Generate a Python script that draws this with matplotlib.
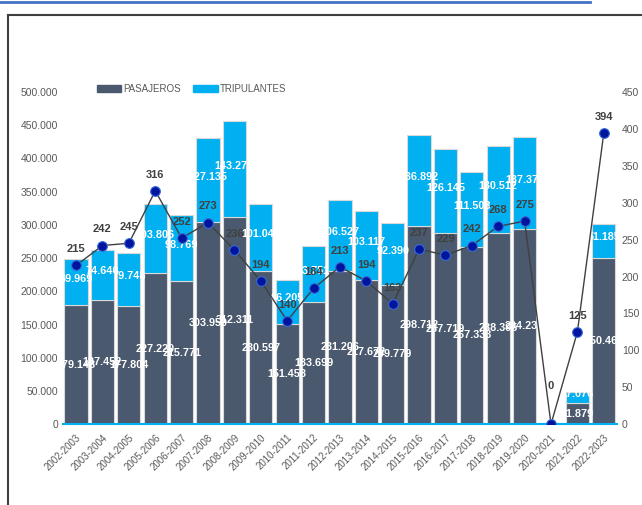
import matplotlib
matplotlib.use("Agg")
import matplotlib.pyplot as plt
import matplotlib.ticker as mticker
import numpy as np
from matplotlib.lines import Line2D

PASAJEROS_C = "#4a596d"
TRIPULANTES_C = "#00b0f0"
LINE_C = "#404040"
DOT_C = "#00159e"
TICK_C = "#595959"

seasons = ["2002-2003", "2003-2004", "2004-2005", "2005-2006", "2006-2007",
           "2007-2008", "2008-2009", "2009-2010", "2010-2011", "2011-2012",
           "2012-2013", "2013-2014", "2014-2015", "2015-2016", "2016-2017",
           "2017-2018", "2018-2019", "2019-2020", "2020-2021", "2021-2022",
           "2022-2023"]
pasajeros = [179148, 187452, 177804, 227220, 215771, 303950, 312311, 230597,
             151458, 183699, 231206, 217672, 209779, 298712, 287719, 267333,
             288395, 294236, 0, 31879, 250463]
tripulantes = [69969, 74640, 79748, 103806, 98769, 127135, 143270, 101041,
               66205, 83751, 106527, 103117, 92390, 136892, 126145, 111508,
               130512, 137377, 0, 17076, 51185]
escalas = [215, 242, 245, 316, 252, 273, 236, 194, 140, 184, 213, 194, 163,
           237, 229, 242, 268, 275, 0, 125, 394]


def miles(v, _=None):
    return f"{v:,.0f}".replace(",", ".")


plt.rcParams.update({
    "font.family": ["Liberation Sans", "DejaVu Sans"],
    "font.size": 7.5,
})

fig = plt.figure(figsize=(6.42, 5.05), dpi=100)
ax = fig.add_axes([0.098, 0.160, 0.863, 0.658])
x = np.arange(len(seasons))
pas = np.array(pasajeros)
tri = np.array(tripulantes)

ax.bar(x, pas, width=0.88, color=PASAJEROS_C, edgecolor="#d9d9d9",
       linewidth=0.8, zorder=2)
ax.bar(x, tri, width=0.88, bottom=pas, color=TRIPULANTES_C,
       edgecolor="#d9d9d9", linewidth=0.8, zorder=2)

for xi, p, t in zip(x, pas, tri):
    if p > 0:
        ax.text(xi, p / 2, miles(p), ha="center", va="center", color="white",
                fontsize=7.8, fontweight="bold", zorder=3)
    if t > 0:
        ax.text(xi, p + t / 2 + 5000, miles(t), ha="center", va="center",
                color="white", fontsize=7.8, fontweight="bold", zorder=3)

ax.set_xlim(-0.5, len(seasons) - 0.5)
ax.set_ylim(0, 500000)
ax.yaxis.set_major_locator(mticker.MultipleLocator(50000))
ax.yaxis.set_major_formatter(mticker.FuncFormatter(miles))
ax.set_xticks(x)
ax.set_xticklabels(seasons, rotation=45, ha="right", rotation_mode="anchor")
ax.tick_params(length=0, colors=TICK_C, labelsize=7.5)
ax.tick_params(axis="x", pad=6, labelsize=7)
for side in ("top", "right", "left"):
    ax.spines[side].set_visible(False)
ax.spines["bottom"].set_color(TRIPULANTES_C)
ax.spines["bottom"].set_linewidth(1.5)

ax2 = ax.twinx()
ax2.set_ylim(0, 450)
ax2.yaxis.set_major_locator(mticker.MultipleLocator(50))
ax2.plot(x, escalas, color=LINE_C, linewidth=1.0, marker="o", markersize=7,
         markerfacecolor=DOT_C, markeredgecolor="#3a6bd8",
         markeredgewidth=0.8, zorder=4)
for xi, v in zip(x, escalas):
    lift = 24 if v == 0 else 8
    ax2.annotate(str(v), (xi, v), xytext=(0, lift), textcoords="offset points",
                 ha="center", va="bottom", fontsize=8, fontweight="bold",
                 color=LINE_C)
ax2.tick_params(length=0, colors=TICK_C, labelsize=7.5)
for side in ("top", "right", "left", "bottom"):
    ax2.spines[side].set_visible(False)

handles = [plt.Rectangle((0, 0), 1, 1, color=PASAJEROS_C),
           plt.Rectangle((0, 0), 1, 1, color=TRIPULANTES_C)]
fig.legend(handles, ["PASAJEROS", "TRIPULANTES"], loc="center left",
           bbox_to_anchor=(0.137, 0.824), ncol=2, frameon=False,
           handlelength=2.5, handleheight=0.6, columnspacing=1.3,
           handletextpad=0.2, fontsize=7, labelcolor=TICK_C)

# outer frame and top rule
fig.add_artist(Line2D([8 / 642, 1], [1 - 15 / 505] * 2, color="#404040",
                      linewidth=1.5, transform=fig.transFigure))
fig.add_artist(Line2D([8 / 642] * 2, [0, 1 - 15 / 505], color="#404040",
                      linewidth=1.5, transform=fig.transFigure))
fig.add_artist(Line2D([0, 590 / 642], [1 - 1.5 / 505] * 2, color="#4472c4",
                      linewidth=2, transform=fig.transFigure))

fig.savefig("out.png", dpi=100, facecolor="white")
